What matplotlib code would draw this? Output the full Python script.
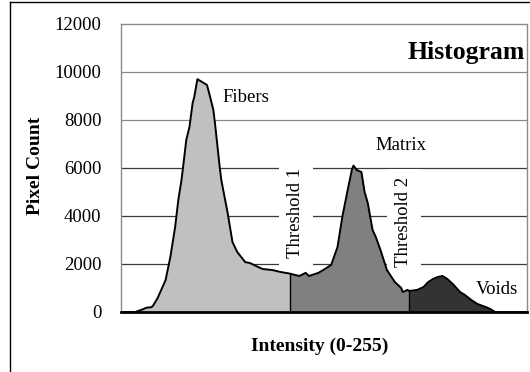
import matplotlib
matplotlib.use("Agg")
import matplotlib.pyplot as plt
import numpy as np

# Histogram of pixel intensities with two segmentation thresholds
intensity = [0, 9, 14, 16, 19, 20, 23, 28, 31, 34,
             36, 38, 39, 41, 43, 45, 46, 48, 51, 54,
             56, 58, 59, 62, 63, 67, 70, 73, 78, 81,
             86, 89, 95, 100, 106, 112, 116, 118, 124, 128,
             132, 136, 139, 142, 145, 146, 148, 151, 153, 155,
             158, 160, 163, 167, 172, 176, 177, 180, 181, 186,
             190, 193, 196, 199, 202, 205, 209, 213, 216, 220,
             224, 229, 232, 235, 255]
pixel_count = [0, 0, 120, 180, 200, 250, 580, 1330, 2290, 3540,
               4670, 5500, 6040, 7170, 7710, 8710, 8960, 9700, 9580, 9460,
               8960, 8420, 7880, 6040, 5500, 4120, 2920, 2500, 2080, 2040,
               1880, 1790, 1750, 1670, 1600, 1500, 1630, 1500, 1630, 1790,
               1960, 2710, 3960, 4960, 5920, 6100, 5920, 5830, 5000, 4540,
               3420, 3130, 2580, 1750, 1250, 1000, 830, 920, 875, 920,
               1040, 1250, 1375, 1460, 1500, 1375, 1125, 830, 710, 500,
               330, 210, 125, 0, 0]

thresholds = [106, 181]
phase_names = ["Fibers", "Matrix", "Voids"]
phase_colors = ["#c0c0c0", "#808080", "#333333"]
y_ticks = [0, 2000, 4000, 6000, 8000, 10000, 12000]

serif = "Liberation Serif"
plt.rcParams["font.family"] = serif

x = np.array(intensity, dtype=float)
y = np.array(pixel_count, dtype=float)

fig = plt.figure(figsize=(5.30, 3.72), dpi=100)
ax = fig.add_axes([121 / 530, 1 - 312 / 372, 406 / 530, 288 / 372])

# gridlines: upper ones light grey, lower ones darker
for v in y_ticks[1:-1]:
    col = "#8a8a8a" if v >= 8000 else "#3a3a3a"
    ax.axhline(v, color=col, lw=0.9, zorder=0.5)

# filled phase regions split at the thresholds
bounds = [0] + thresholds + [255]
for lo, hi, col in zip(bounds[:-1], bounds[1:], phase_colors):
    m = (x >= lo) & (x <= hi)
    ax.fill_between(x[m], 0, y[m], color=col, lw=0, zorder=2)

ax.plot(x, y, color="black", lw=1.4, zorder=4, solid_joinstyle="round")
for t in thresholds:
    ax.plot([t, t], [0, np.interp(t, x, y)], color="black", lw=1.0, zorder=4)

ax.set_xlim(0, 255)
ax.set_ylim(0, 12000)
ax.set_xticks([])
ax.set_yticks(y_ticks)
ax.set_yticklabels([str(v) for v in y_ticks], fontsize=13.5)
ax.tick_params(axis="y", length=0, pad=14)
for s in ["left", "top", "right"]:
    ax.spines[s].set_color("#8a8a8a")
    ax.spines[s].set_linewidth(1.0)
ax.spines["bottom"].set_color("black")
ax.spines["bottom"].set_linewidth(2.0)
ax.spines["bottom"].set_zorder(5)

# threshold labels: white boxes break the gridlines but sit under the curve
box = dict(boxstyle="square,pad=0.45", fc="white", ec="none")
ax.text(296 / 530, 1 - 213 / 372, "Threshold 1", rotation=90, fontsize=13.5,
        ha="center", va="center", bbox=box, zorder=1, clip_on=False,
        transform=fig.transFigure)
ax.text(404 / 530, 1 - 222 / 372, "Threshold 2", rotation=90, fontsize=13.5,
        ha="center", va="center", bbox=box, zorder=1, clip_on=False,
        transform=fig.transFigure)

fig.text(246 / 530, 1 - 98 / 372, phase_names[0], fontsize=13.5, ha="center", va="center")
fig.text(401 / 530, 1 - 146 / 372, phase_names[1], fontsize=13.5, ha="center", va="center")
fig.text(497 / 530, 1 - 290 / 372, phase_names[2], fontsize=13.5, ha="center", va="center")
fig.text(525 / 530, 1 - 52 / 372, "Histogram", fontsize=18.5, fontweight="bold",
         ha="right", va="center")

fig.text(35 / 530, 1 - 166 / 372, "Pixel Count", rotation=90, fontsize=14,
         fontweight="bold", ha="center", va="center")
fig.text(320 / 530, 1 - 346 / 372, "Intensity (0-255)", fontsize=14,
         fontweight="bold", ha="center", va="center")

# outer frame (left and top edges visible)
fig.add_artist(plt.Line2D([10 / 530, 10 / 530], [0, 1 - 2 / 372], color="black",
                          lw=1.0, transform=fig.transFigure))
fig.add_artist(plt.Line2D([10 / 530, 1], [1 - 2 / 372, 1 - 2 / 372], color="black",
                          lw=1.0, transform=fig.transFigure))

fig.savefig("out.png", dpi=100)
